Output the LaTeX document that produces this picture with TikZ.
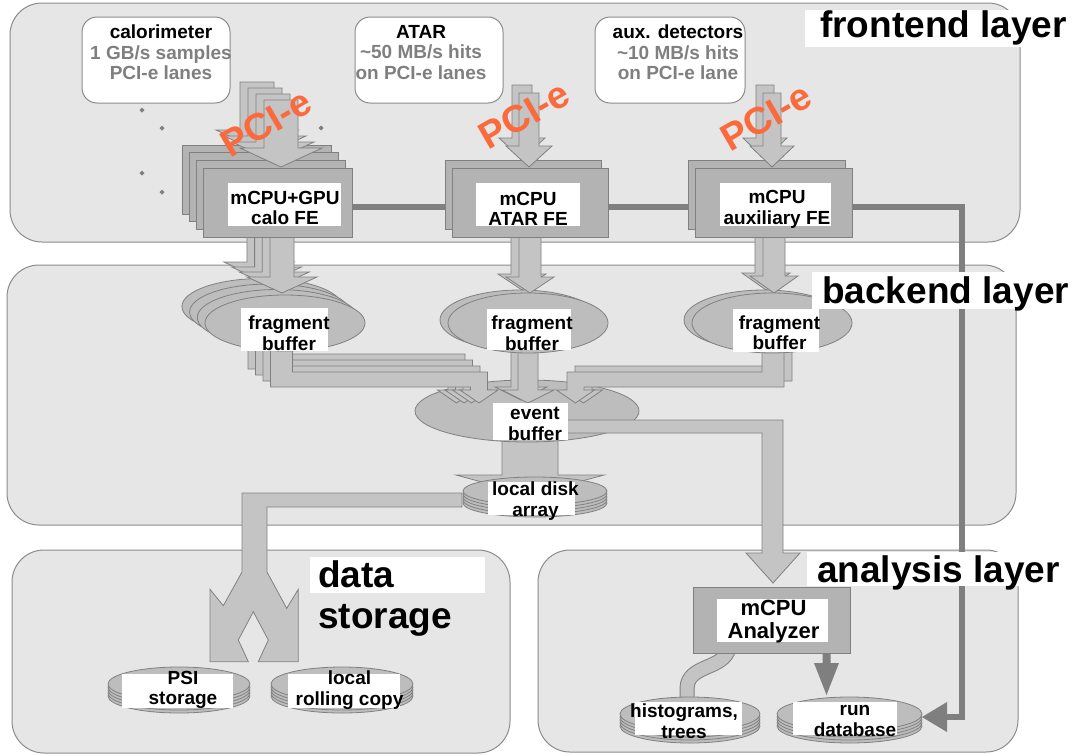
\documentclass[tikz,border=0pt]{standalone}
\usepackage{fontspec}
\setmainfont{Liberation Sans}
\definecolor{layerfill}{HTML}{E6E6E6}
\definecolor{layerline}{HTML}{8C8C8C}
\definecolor{boxfill}{HTML}{B3B3B3}
\definecolor{ellfill}{HTML}{BDBDBD}
\definecolor{arrfill}{HTML}{C4C4C4}
\definecolor{edgegrey}{HTML}{808080}
\definecolor{darkline}{HTML}{7F7F7F}
\definecolor{txtgrey}{HTML}{7F7F7F}
\definecolor{pciorange}{HTML}{FA6A3C}
\tikzset{
  layer/.style={draw=layerline, fill=layerfill, line width=1pt, rounded corners=32pt},
  blk/.style={draw=edgegrey, fill=arrfill, line width=0.8pt, line join=miter},
  fe/.style={draw=edgegrey, fill=boxfill, line width=0.8pt},
  ell/.style={draw=edgegrey, fill=ellfill, line width=0.8pt},
  srcbox/.style={draw=layerline, fill=white, line width=1pt, rounded corners=15pt, inner sep=0pt},
  txt/.style={align=center, inner sep=0pt, font=\fontsize{19}{20.5}\selectfont\bfseries},
  bigtxt/.style={align=center, inner sep=0pt, font=\fontsize{22}{23}\selectfont\bfseries},
  title/.style={inner sep=0pt, anchor=base west, font=\fontsize{37}{40}\selectfont\bfseries},
  pci/.style={inner sep=0pt, text=pciorange, font=\fontsize{38}{40}\selectfont\bfseries},
  darkln/.style={draw=darkline, line width=6pt, line join=miter},
}
\newcommand\blkdown[6]{\draw[blk] (#1-#5,#2) -- (#1-#5,#3) -- (#1-#6,#3) -- (#1,#4) -- (#1+#6,#3) -- (#1+#5,#3) -- (#1+#5,#2) -- cycle;}
\newcommand\lrarrow[4]{\draw[blk] (#1,#4) -- (#1,#2+15) -- (#3-17,#2+15) -- (#3-17,390) -- (#3-27.5,390) -- (#3-8.5,403) -- (#3+10.5,390) -- (#3,390) -- (#3,#2) -- (#1+22,#2) -- (#1+22,#4) -- cycle;}
\newcommand\llarrow[4]{\draw[blk] (#1+22,#4) -- (#1+22,#2+15) -- (#3+17,#2+15) -- (#3+17,390) -- (#3+27.5,390) -- (#3+8.5,403) -- (#3-10.5,390) -- (#3,390) -- (#3,#2) -- (#1,#2) -- (#1,#4) -- cycle;}
\newcommand\diskst[4]{\foreach \k in {4,3,2,1,0}{\draw[ell] (#1,#2+3*\k) ellipse [x radius=#3pt, y radius=#4pt];}}
\begin{document}
\begin{tikzpicture}[x=1pt,y=-1pt]
\fill[white] (0,0) rectangle (1078,755);
\useasboundingbox (0,0) rectangle (1078,755);
% layers
\draw[layer] (10,3) rectangle (1020,242);
\draw[layer] (7,265) rectangle (1016,525);
\draw[layer] (12,550) rectangle (510,753);
\draw[layer] (538,550) rectangle (1018,752);
% dark connector from FE boxes to run database
\coordinate (rdbin) at (922,717);
\draw[darkln] (352,207) -- (962,207) -- (962,717) -- (945,717);
\fill[darkline] (947,702) -- (rdbin) -- (947,732) -- cycle;
% source boxes
\node[srcbox, minimum width=148pt, minimum height=86pt] (calosrc) at (156,60) {};
\node[srcbox, minimum width=148pt, minimum height=86pt] (atarsrc) at (429,60) {};
\node[srcbox, minimum width=150pt, minimum height=86pt] (auxsrc) at (670,60) {};
\node[txt] (calotxt) at (161,52.5) {calorimeter\\\textcolor{txtgrey}{1 GB/s samples}\\\textcolor{txtgrey}{PCI-e lanes}};
\node[txt] (atartxt) at (421,52.5) {ATAR\\\textcolor{txtgrey}{\textasciitilde 50 MB/s hits}\\\textcolor{txtgrey}{on PCI-e lanes}};
\node[txt] (auxtxt) at (678,52.5) {aux. detectors\\\textcolor{txtgrey}{\textasciitilde 10 MB/s hits}\\\textcolor{txtgrey}{on PCI-e lane}};
% event buffer -> local disk
\blkdown{530}{430}{475}{495}{28}{74}
% event buffer
\draw[ell] (527,411) ellipse [x radius=112pt, y radius=31pt];
% fragment -> event arrows
\foreach \i in {0,1,2,3}{\lrarrow{248+7.5*\i}{354+6*\i}{465+7.5*\i}{335}}
\foreach \i in {1,0}{\begin{scope}[shift={(-7*\i,-3*\i)}]\blkdown{528}{345}{390}{403}{10}{26}\end{scope}}
\llarrow{770}{366}{575}{335}
\llarrow{762}{372}{567}{335}
% FE -> fragment arrows and fragment buffers
\foreach \i in {3,2,1,0}{
  \begin{scope}[shift={(-7.7*\i,-5*\i)}]\blkdown{282}{228}{277}{293}{12}{35}\end{scope}
  \draw[ell] ({285-7.7*\i},{323-5.5*\i}) ellipse [x radius=80pt, y radius=28pt];
}
\foreach \i in {1,0}{
  \begin{scope}[shift={(-8*\i,-3*\i)}]\blkdown{530}{228}{277}{293}{11}{24}\end{scope}
  \draw[ell] ({528-8*\i},{323-3*\i}) ellipse [x radius=80pt, y radius=30pt];
  \begin{scope}[shift={(-8*\i,-3*\i)}]\blkdown{774}{228}{276}{293}{11}{24}\end{scope}
  \draw[ell] ({772-8*\i},{323-3*\i}) ellipse [x radius=80pt, y radius=30pt];
}
% PCI-e arrows and FE boxes
\foreach \i in {3,2,1,0}{
  \begin{scope}[shift={(-8*\i,-6*\i)}]\blkdown{281}{100}{148}{167}{17}{41}\end{scope}
  \begin{scope}[shift={(-7*\i,-7.7*\i)}]\draw[fe] (203,168) rectangle (352,237);\end{scope}
}
\foreach \i in {1,0}{
  \begin{scope}[shift={(-7*\i,-8*\i)}]\blkdown{529}{93}{146}{167}{10}{23}\end{scope}
  \begin{scope}[shift={(-7*\i,-8*\i)}]\draw[fe] (452,168) rectangle (608,237);\end{scope}
  \begin{scope}[shift={(-7*\i,-8*\i)}]\blkdown{772}{93}{146}{167}{9}{22}\end{scope}
  \begin{scope}[shift={(-7*\i,-8*\i)}]\draw[fe] (695,168) rectangle (852,237);\end{scope}
}
\node[pci, rotate=30] (pci1) at (266,123) {PCI-e};
\node[pci, rotate=30] (pci2) at (524,115) {PCI-e};
\node[pci, rotate=30] (pci3) at (766,117) {PCI-e};
% dots
\foreach \p in {(142,110),(162,128),(142,173),(162,192),(321,128)}{
  \fill[txtgrey] \p +(-2.5,0) -- +(0,-2.5) -- +(2.5,0) -- +(0,2.5) -- cycle;}
% event buffer -> analyzer
\draw[blk] (560,420) -- (783,420) -- (783,553) -- (800,553) -- (773,583) -- (746,553) -- (762,553) -- (762,433) -- (560,433) -- cycle;
% local disk -> data storage (split arrow)
\draw[blk] (462,493) -- (242,493) -- (242,572) -- (223.3,605.7) -- (210,589.3) -- (210,661.7) -- (248.3,661.7) -- (238.3,640) -- (253.3,611.7) -- (268.3,640) -- (258.3,661.7) -- (298.3,661.7) -- (298.3,589.3) -- (286.7,608.3) -- (267,572) -- (267,507) -- (462,507) -- cycle;
% disks
\diskst{535}{491}{72}{14}
\diskst{179}{684}{71}{17}
\diskst{342}{684}{71}{17}
% analysis
\draw[draw=edgegrey, line width=15pt] (729,648) .. controls (724,670) and (688,664) .. (687,688) -- (687,704);
\draw[draw=arrfill, line width=13pt] (729,648) .. controls (724,670) and (688,664) .. (687,688) -- (687,704);
\node[fe, minimum width=157pt, minimum height=66pt, inner sep=0pt] (anabox) at (771.5,620) {};
\diskst{690}{714}{70}{17}
\diskst{849.5}{714}{72.5}{17}
\fill[darkline] (822.5,653) -- (830.5,653) -- (830.5,663) -- (839,663) -- (826.5,695) -- (814,663) -- (822.5,663) -- cycle;
% white labels
\foreach \a/\b in {{(228,183)}/{(341,226)},{(476,183)}/{(580,226)},{(720,183)}/{(831,226)},
  {(241,308)}/{(328,351)},{(487,309)}/{(571,350)},{(733,309)}/{(819,352)},
  {(493,403)}/{(568,440)},{(488,482)}/{(575,515)},{(122,674)}/{(233,708)},
  {(288,674)}/{(400,708)},{(635,702)}/{(742,735)},{(793,702)}/{(897,735)},
  {(717,599)}/{(828,642)}}{\fill[white] \a rectangle \b;}
\node[txt] (calofe) at (285,208) {mCPU+GPU\\calo FE};
\node[txt] (atarfe) at (528,209) {mCPU\\ATAR FE};
\node[txt] (auxfe) at (777,209.5) {mCPU\\auxiliary FE};
\node[txt] (calofb) at (289,333) {fragment\\buffer};
\node[txt] (atarfb) at (532,333) {fragment\\buffer};
\node[txt] (auxfb) at (779.5,332.5) {fragment\\buffer};
\node[txt] (evb) at (535,424) {event\\buffer};
\node[txt] (ldisk) at (535.5,501) {local disk\\array};
\node[txt] (psi) at (183,690) {PSI\\storage};
\node[txt] (roll) at (349.5,690) {local\\rolling copy};
\node[txt] (hist) at (684,721) {histograms,\\trees};
\node[txt] (rundb) at (855,721) {run\\database};
\node[bigtxt] (ana) at (773.5,621.5) {mCPU\\Analyzer};
% layer titles
\fill[white] (805,10) rectangle (1070,47);
\node[title] (tfront) at (820,37) {frontend layer};
\fill[white] (812,272) rectangle (1075,309);
\node[title] (tback) at (822,303) {backend layer};
\fill[white] (807,552) rectangle (1065,586);
\node[title] (tana) at (817,582) {analysis layer};
\fill[white] (310,557) rectangle (485,593);
\node[title] (tdata) at (318,587) {data};
\node[title] (tstor) at (318,628) {storage};
\end{tikzpicture}
\end{document}
